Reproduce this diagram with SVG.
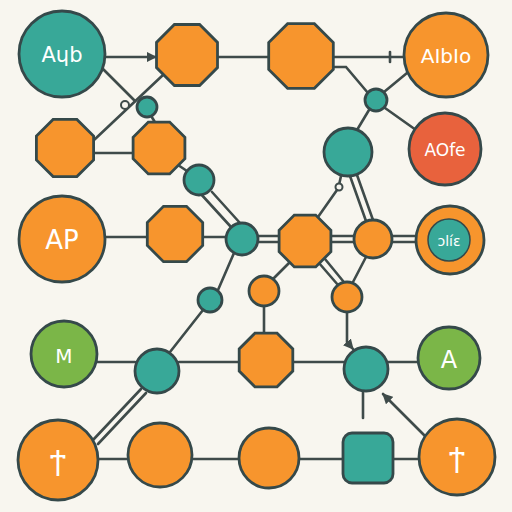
<svg xmlns="http://www.w3.org/2000/svg" width="512" height="512" viewBox="0 0 512 512">
<defs>
<style>
.bg{fill:#f8f6ef}
.ln{stroke:#3f4b4a;stroke-width:2.6;fill:none;stroke-linecap:round}
.nd{stroke:#35494a;stroke-width:2.8}
.teal{fill:#38a898}
.or{fill:#f7952d}
.gr{fill:#7bb648}
.red{fill:#e8623d}
.t{fill:#ffffff;font-family:"DejaVu Sans","Liberation Sans",sans-serif;text-anchor:middle;dominant-baseline:central}
</style>
<marker id="ah" viewBox="0 0 10 10" refX="9" refY="5" markerWidth="4" markerHeight="4" orient="auto"><path d="M0,0L10,5L0,10z" fill="#3f4b4a"/></marker>
</defs>
<rect class="bg" x="0" y="0" width="512" height="512"/>
<g id="connectors">
<line class="ln" x1="100" y1="57" x2="156" y2="57" marker-end="url(#ah)"/>
<line class="ln" x1="215" y1="57" x2="272" y2="57"/>
<line class="ln" x1="333" y1="57" x2="405" y2="57"/>
<line class="ln" x1="390" y1="52" x2="390" y2="62" stroke-width="4"/>
<line class="ln" x1="100" y1="66" x2="135" y2="101"/>
<line class="ln" x1="163" y1="75" x2="94" y2="140"/>
<circle cx="125" cy="105" r="4" fill="#f8f6ef" stroke="#3f4b4a" stroke-width="2"/>
<line class="ln" x1="150" y1="114" x2="156" y2="124"/>
<line class="ln" x1="94" y1="153" x2="134" y2="153"/>
<line class="ln" x1="178" y1="165" x2="190" y2="173"/>
<line class="ln" x1="200" y1="193" x2="231" y2="227"/>
<line class="ln" x1="212" y1="192" x2="240" y2="223"/>
<polyline class="ln" points="334,67 346,67 368,93"/>
<line class="ln" x1="384" y1="92" x2="407" y2="73"/>
<line class="ln" x1="385" y1="108" x2="416" y2="130"/>
<line class="ln" x1="369" y1="110" x2="357" y2="130"/>
<line class="ln" x1="341" y1="176" x2="339" y2="185"/>
<circle cx="339" cy="187" r="3.5" fill="#f8f6ef" stroke="#3f4b4a" stroke-width="2"/>
<line class="ln" x1="337" y1="190" x2="318" y2="217"/>
<line class="ln" x1="350" y1="176" x2="366" y2="221"/>
<line class="ln" x1="357" y1="175" x2="373" y2="220"/>
<line class="ln" x1="106" y1="237" x2="148" y2="237"/>
<line class="ln" x1="203" y1="237" x2="226" y2="237"/>
<line class="ln" x1="258" y1="236" x2="280" y2="236"/>
<line class="ln" x1="258" y1="242" x2="280" y2="242"/>
<line class="ln" x1="331" y1="236" x2="354" y2="236"/>
<line class="ln" x1="331" y1="242" x2="354" y2="242"/>
<line class="ln" x1="393" y1="236" x2="416" y2="236"/>
<line class="ln" x1="393" y1="242" x2="416" y2="242"/>
<line class="ln" x1="234" y1="253" x2="218" y2="290"/>
<line class="ln" x1="203" y1="310" x2="170" y2="352"/>
<line class="ln" x1="290" y1="262" x2="272" y2="280"/>
<line class="ln" x1="319" y1="263" x2="338" y2="285"/>
<line class="ln" x1="325" y1="259" x2="343" y2="281"/>
<line class="ln" x1="366" y1="257" x2="353" y2="282"/>
<line class="ln" x1="264" y1="306" x2="264" y2="334"/>
<polyline class="ln" points="347,312 347,342 353,349" marker-end="url(#ah)"/>
<line class="ln" x1="97" y1="362" x2="135" y2="362"/>
<line class="ln" x1="179" y1="362" x2="240" y2="362"/>
<line class="ln" x1="292" y1="362" x2="344" y2="362"/>
<line class="ln" x1="388" y1="362" x2="418" y2="362"/>
<line class="ln" x1="141" y1="389" x2="93" y2="440"/>
<line class="ln" x1="146" y1="393" x2="98" y2="444"/>
<line class="ln" x1="363" y1="392" x2="363" y2="418"/>
<line class="ln" x1="426" y1="437" x2="383" y2="394" stroke-width="3.2" marker-end="url(#ah)"/>
<line class="ln" x1="98" y1="459" x2="130" y2="459"/>
<line class="ln" x1="190" y1="459" x2="240" y2="459"/>
<line class="ln" x1="299" y1="459" x2="344" y2="459"/>
<line class="ln" x1="392" y1="459" x2="419" y2="459"/>
</g>
<g id="n1"><circle class="nd teal" cx="62" cy="54" r="43"/><text class="t" x="62" y="55" font-size="21">Aɥb</text></g>
<g id="n2"><polygon class="nd or" points="217.5,42.4 217.5,67.6 199.6,85.5 174.4,85.5 156.5,67.6 156.5,42.4 174.4,24.5 199.6,24.5"/></g>
<g id="n3"><polygon class="nd or" points="333.3,42.6 333.3,69.4 314.4,88.3 287.6,88.3 268.7,69.4 268.7,42.6 287.6,23.7 314.4,23.7"/></g>
<g id="n4"><circle class="nd or" cx="446" cy="55" r="42"/><text class="t" x="446" y="56" font-size="20">AIbIo</text></g>
<g id="n5"><circle class="nd teal" cx="376" cy="100" r="11"/></g>
<g id="n6"><circle class="nd red" cx="445" cy="149" r="36"/><text class="t" x="445" y="150" font-size="17">AOfe</text></g>
<g id="n7"><circle class="nd teal" cx="348" cy="152" r="24"/></g>
<g id="n8"><circle class="nd teal" cx="147" cy="107" r="10"/></g>
<g id="n9"><polygon class="nd or" points="93.6,136.1 93.6,159.9 76.9,176.6 53.1,176.6 36.4,159.9 36.4,136.1 53.1,119.4 76.9,119.4"/></g>
<g id="n10"><polygon class="nd or" points="184.9,137.3 184.9,158.7 169.7,173.9 148.3,173.9 133.1,158.7 133.1,137.3 148.3,122.1 169.7,122.1"/></g>
<g id="n11"><circle class="nd teal" cx="199" cy="180" r="15"/></g>
<g id="n12"><circle class="nd or" cx="62" cy="239" r="43"/><text class="t" x="62" y="240" font-size="26">AP</text></g>
<g id="n13"><polygon class="nd or" points="202.7,222.5 202.7,245.5 186.5,261.7 163.5,261.7 147.3,245.5 147.3,222.5 163.5,206.3 186.5,206.3"/></g>
<g id="n14"><circle class="nd teal" cx="242" cy="239" r="16"/></g>
<g id="n15"><circle class="nd teal" cx="210" cy="300" r="12"/></g>
<g id="n16"><polygon class="nd or" points="330.9,230.3 330.9,251.7 315.7,266.9 294.3,266.9 279.1,251.7 279.1,230.3 294.3,215.1 315.7,215.1"/></g>
<g id="n17"><circle class="nd or" cx="373" cy="239" r="19"/></g>
<g id="n18"><circle class="nd or" cx="450" cy="240" r="34"/><circle cx="449" cy="240" r="21" fill="#38a898" stroke="#35494a" stroke-width="1.5"/><text class="t" x="449" y="241" font-size="14">ɔlíɛ</text></g>
<g id="n19"><circle class="nd or" cx="264" cy="291" r="15"/></g>
<g id="n20"><circle class="nd or" cx="347" cy="297" r="15"/></g>
<g id="n21"><circle class="nd gr" cx="64" cy="354" r="33"/><text class="t" x="64" y="356" font-size="20">M</text></g>
<g id="n22"><circle class="nd teal" cx="157" cy="371" r="22"/></g>
<g id="n23"><polygon class="nd or" points="292.8,348.9 292.8,371.1 277.1,386.8 254.9,386.8 239.2,371.1 239.2,348.9 254.9,333.2 277.1,333.2"/></g>
<g id="n24"><circle class="nd teal" cx="366" cy="369" r="22"/></g>
<g id="n25"><circle class="nd gr" cx="449" cy="358" r="31"/><text class="t" x="449" y="360" font-size="24">A</text></g>
<g id="n26"><circle class="nd or" cx="58" cy="460" r="40"/><text class="t" x="58" y="461" font-size="26">Ϯ</text></g>
<g id="n27"><circle class="nd or" cx="160" cy="455" r="32"/></g>
<g id="n28"><circle class="nd or" cx="269" cy="458" r="30"/></g>
<g id="n29"><rect class="nd teal" x="343" y="433" width="50" height="50" rx="9"/></g>
<g id="n30"><circle class="nd or" cx="457" cy="457" r="38"/><text class="t" x="457" y="458" font-size="26">Ϯ</text></g>
</svg>
